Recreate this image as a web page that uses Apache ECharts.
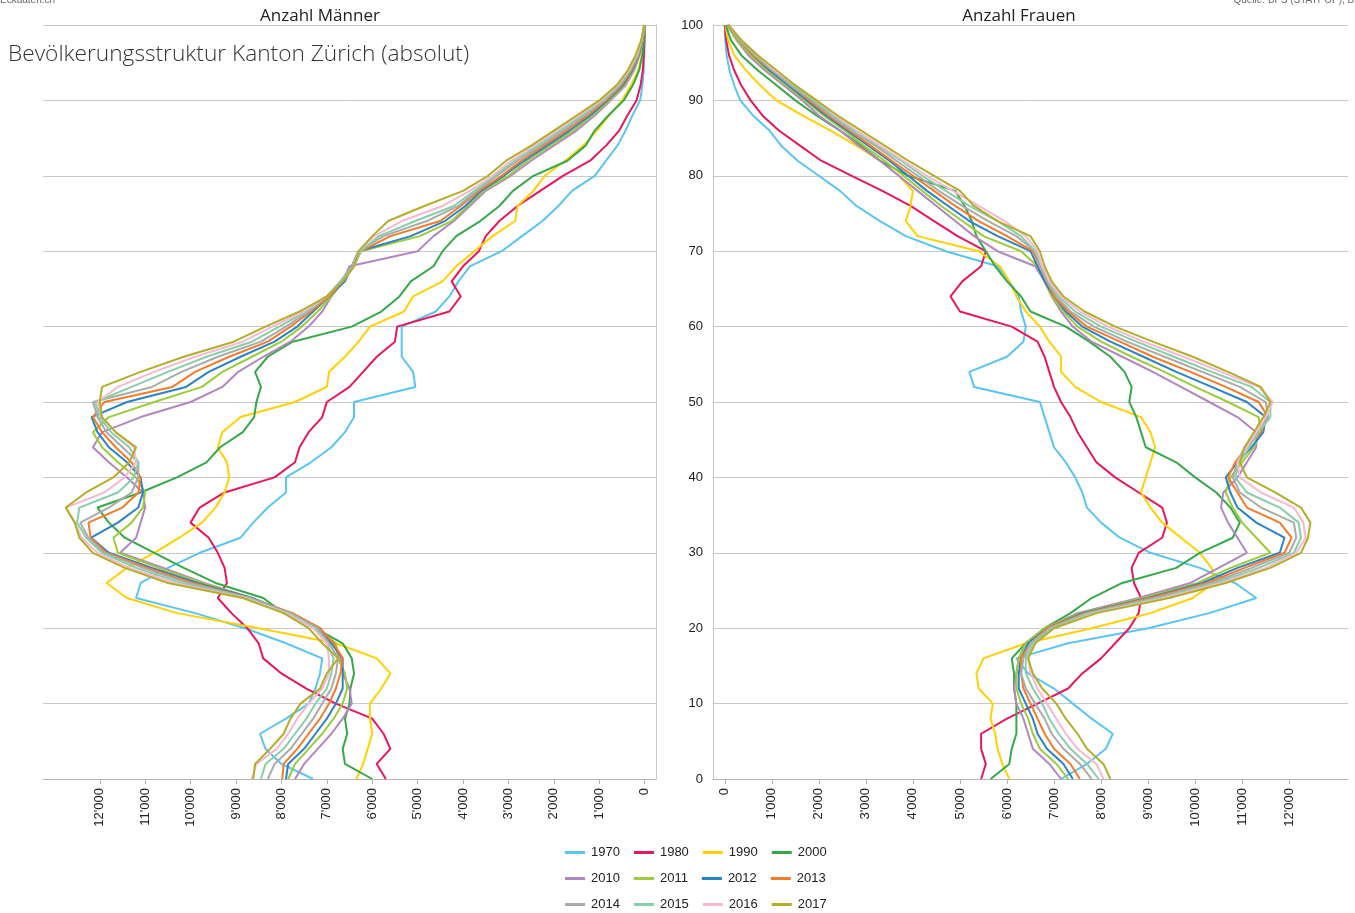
<!DOCTYPE html>
<html>
<head>
<meta charset="utf-8">
<title>Bevölkerungsstruktur Kanton Zürich</title>
<script src="https://cdn.jsdelivr.net/npm/echarts@6.0.0/dist/echarts.min.js"></script>
<style>
html, body { margin: 0; padding: 0; background: #fff; }
#chart { width: 1355px; height: 913px; }
</style>
</head>
<body>
<div id="chart"></div>
<script>
// Alter (y-Achse), alle 2 Jahre
var ages = [0,2,4,6,8,10,12,14,16,18,20,22,24,26,28,30,32,34,36,38,40,42,44,46,48,50,52,54,56,58,60,62,64,66,68,70,72,74,76,78,80,82,84,86,88,90,92,94,96,98,100];
var years = ['1970','1980','1990','2000','2010','2011','2012','2013','2014','2015','2016','2017'];
var colors = ['#5bc5f2','#e5185d','#ffd105','#36a84a','#b286c0','#9ccb3b','#2b83c6','#f47b2a','#a9abab','#86cfa8','#f7b8d1','#b5ad2a'];
var tickValues = [0,1000,2000,3000,4000,5000,6000,7000,8000,9000,10000,11000,12000];

// Männer
var m1970 = [7300,8000,8350,8470,7900,7400,7250,7150,7100,7900,8800,9900,11200,11100,10500,9800,8900,8620,8300,7900,7900,7350,6900,6600,6400,6400,5050,5100,5350,5350,5350,4600,4300,4100,3850,3150,2700,2250,1900,1600,1100,850,600,420,270,100,50,20,10,0,0];
var m1980 = [5700,5900,5600,5750,6000,6800,7450,8000,8400,8500,8750,9100,9400,9200,9250,9400,9600,10000,9800,9250,8150,7700,7600,7400,7100,7000,6500,6200,5900,5500,5450,4300,4050,4250,4000,3650,3500,3200,2800,2300,1800,1200,850,560,380,180,90,40,20,5,0];
var m1990 = [6350,6200,6100,6000,6050,6050,5800,5600,5900,6800,8500,10300,11400,11850,11400,10800,10250,9750,9450,9250,9150,9200,9400,9300,8900,7700,7000,6950,6600,6300,6050,5300,5100,4450,4150,3750,3350,2850,2800,2450,2200,1750,1350,1050,780,500,300,140,60,20,0];
var m2000 = [6000,6600,6650,6550,6600,6500,6480,6400,6450,6650,7250,7950,8400,9450,10150,10800,11450,11800,12050,11100,10300,9650,9350,8850,8600,8550,8450,8580,8300,7750,6450,5800,5400,5150,4650,4450,4150,3620,3200,2900,2450,1700,1300,1100,800,460,260,120,50,15,0];
var m2010 = [7700,7500,7200,6900,6650,6450,6500,6650,6700,6850,7250,7900,8650,9700,10600,11550,11200,11100,11000,11050,11400,11800,12150,11950,11100,10000,9300,8950,8400,7800,7400,7100,6900,6650,6500,5000,4650,4200,3850,3500,2950,2500,2000,1500,1100,750,420,230,110,40,5];
var m2011 = [7850,7700,7400,7100,6850,6650,6550,6600,6750,6800,7200,7850,8650,9750,10700,11600,11700,11300,11050,11000,11200,11600,11950,12150,11800,10800,9750,9300,8650,8000,7550,7200,6900,6650,6450,6250,4950,4250,3900,3550,3000,2580,2080,1570,1150,780,450,250,120,45,5];
var m2012 = [7900,7850,7500,7250,7000,6800,6650,6650,6650,6900,7150,7800,8650,9850,10850,11800,12190,11600,11150,11050,11100,11400,11800,12050,12180,11400,10100,9600,8900,8150,7650,7300,6950,6600,6450,6300,5150,4400,3950,3600,3100,2650,2150,1650,1200,820,480,270,130,50,8];
var m2013 = [7980,7950,7650,7400,7150,6950,6800,6700,6650,6850,7150,7750,8700,9950,10950,11850,12200,12250,11500,11150,11100,11300,11650,11950,12150,11900,10400,9900,9150,8300,7800,7350,6950,6650,6400,6250,5600,4500,4050,3650,3150,2720,2220,1720,1260,850,510,290,140,55,8];
var m2014 = [8300,8150,7800,7550,7300,7100,6900,6800,6750,6950,7200,7800,8700,10050,11050,11900,12250,12430,11800,11300,11150,11150,11500,11850,12050,12150,10850,10200,9400,8450,7900,7400,7000,6700,6450,6300,5750,4800,4100,3700,3250,2800,2290,1790,1320,890,540,310,150,60,10];
var m2015 = [8450,8350,7950,7700,7450,7250,7000,6900,6850,7000,7250,7850,8750,10200,11200,11950,12300,12500,12450,11600,11250,11150,11350,11750,12000,12100,11300,10500,9650,8650,8050,7450,7000,6700,6400,6250,5850,5050,4200,3750,3300,2870,2360,1860,1380,920,570,330,170,65,10];
var m2016 = [8650,8550,8100,7850,7650,7400,7100,6950,6950,7000,7300,7900,8800,10350,11350,12050,12400,12550,12750,11900,11450,11200,11250,11650,11950,12050,11600,10800,9900,8850,8200,7500,7000,6650,6400,6300,5950,5350,4450,3850,3350,2940,2430,1930,1440,960,600,350,180,70,10];
var m2017 = [8620,8580,8250,7950,7800,7580,7150,7000,6750,7100,7400,7950,8850,10500,11450,12150,12450,12550,12750,12300,11700,11350,11200,11650,11950,12000,11950,11100,10150,9050,8350,7600,7000,6650,6400,6300,6000,5650,4850,4000,3450,3050,2500,2000,1500,1000,620,370,200,75,10];

// Frauen
var f1970 = [7150,7700,8100,8250,7800,7400,7000,6450,6200,7300,9000,10300,11300,10850,10100,9050,8400,8000,7700,7600,7450,7250,7000,6900,6800,6700,5300,5200,6000,6350,6400,6300,6250,6050,5800,4700,3850,3300,2800,2450,2000,1550,1200,950,600,330,200,100,40,10,0];
var f1980 = [5450,5550,5450,5450,6000,6650,7300,7600,8000,8300,8600,8800,8850,8700,8650,8800,9300,9400,9300,8800,8300,7900,7700,7500,7350,7150,7000,6900,6800,6650,6100,5000,4800,5050,5450,5550,4950,4450,3950,3350,2700,2050,1600,1150,800,550,350,200,90,30,0];
var f1990 = [6050,5900,5800,5750,5650,5700,5400,5350,5500,6400,7800,9050,9950,10400,10350,10100,9700,9300,9050,8850,8950,9050,9150,9050,8850,8000,7450,7150,7150,6900,6700,6400,6200,6050,5850,5400,4100,3850,3950,4000,3700,3300,2800,2250,1650,1100,750,450,200,70,10];
var f2000 = [5650,6050,6100,6200,6200,6200,6150,6150,6100,6400,6800,7350,7800,8450,9600,10100,10800,10950,10750,10450,10000,9600,8950,8850,8750,8600,8650,8500,8200,7750,7250,6500,6300,6000,5750,5550,5350,5250,5100,4900,3900,3300,2900,2450,1950,1500,1100,700,350,130,20];
var f2010 = [7150,6900,6550,6450,6350,6200,6150,6200,6250,6400,6800,7500,8800,9900,10500,11100,10900,10700,10550,10600,10900,11100,11300,11300,10900,10300,9700,9100,8450,7800,7400,7150,6950,6800,6600,5800,5300,4900,4500,4100,3700,3300,2850,2450,2000,1650,1250,850,500,250,50];
var f2011 = [7300,7050,6700,6550,6450,6300,6200,6200,6250,6400,6800,7550,8900,10050,10750,11600,11300,11000,10800,10650,10750,11000,11250,11400,11350,10700,10000,9350,8650,8000,7500,7200,6950,6800,6650,6300,5500,5050,4600,4200,3800,3400,2950,2550,2100,1700,1300,900,550,250,50];
var f2012 = [7400,7200,6850,6650,6550,6400,6250,6250,6300,6450,6850,7600,9000,10150,10900,11800,11900,11300,10900,10750,10650,10900,11200,11450,11500,11100,10350,9600,8900,8200,7600,7250,7000,6800,6650,6500,5800,5200,4750,4300,3900,3500,3050,2600,2150,1750,1350,950,600,300,60];
var f2013 = [7550,7350,7000,6800,6650,6500,6350,6300,6300,6500,6850,7650,9050,10250,11050,11900,12050,11800,11100,10900,10700,10850,11100,11400,11550,11350,10650,9900,9100,8400,7700,7300,7000,6850,6700,6550,6000,5400,4900,4450,4000,3550,3100,2650,2200,1800,1400,1000,600,300,60];
var f2014 = [7800,7550,7200,6950,6800,6600,6400,6300,6350,6500,6900,7700,9150,10350,11200,12000,12150,12100,11400,10950,10800,10900,11050,11350,11550,11500,10950,10150,9350,8550,7850,7350,7050,6850,6700,6600,6200,5600,5050,4550,4100,3650,3200,2700,2250,1850,1400,1000,650,300,70];
var f2015 = [7950,7700,7350,7100,6900,6750,6550,6400,6400,6550,6950,7750,9250,10450,11350,12100,12250,12200,11800,11100,10850,10950,11150,11350,11600,11600,11200,10350,9550,8750,8000,7450,7100,6900,6750,6600,6300,5800,5200,4700,4200,3750,3250,2750,2300,1900,1450,1050,650,350,70];
var f2016 = [8050,7900,7500,7250,7050,6850,6650,6500,6450,6600,7000,7850,9350,10550,11500,12150,12350,12300,12100,11400,10950,10900,11100,11300,11500,11650,11350,10550,9750,8900,8150,7550,7150,6900,6750,6650,6400,5950,5400,4850,4300,3800,3300,2800,2350,1950,1500,1050,700,350,80];
var f2017 = [8200,8050,7700,7500,7250,7050,6750,6550,6450,6600,7000,7900,9450,10650,11600,12250,12400,12450,12250,11700,11100,10950,11050,11250,11450,11600,11400,10700,9950,9100,8300,7650,7200,6950,6800,6700,6500,5800,5300,5000,4450,3900,3400,2900,2400,1950,1500,1100,700,350,80];

var men = [m1970, m1980, m1990, m2000, m2010, m2011, m2012, m2013, m2014, m2015, m2016, m2017];
var women = [f1970, f1980, f1990, f2000, f2010, f2011, f2012, f2013, f2014, f2015, f2016, f2017];

function fmt(v) {
	return String(v).replace(/\B(?=(\d{3})+(?!\d))/g, "'");
}

var myChart = echarts.init(document.getElementById('chart'), null, { renderer: 'canvas' });

var series = [];
for (var i = 0; i < years.length; i++) {
	var dm = [], df = [];
	for (var j = 0; j < ages.length; j++) {
		dm.push([men[i][j], ages[j]]);
		df.push([women[i][j], ages[j]]);
	}
	series.push({
		name: years[i], type: 'line', xAxisIndex: 0, yAxisIndex: 0,
		data: dm, showSymbol: false, symbol: 'none', clip: false,
		lineStyle: { width: 2, color: colors[i] }, itemStyle: { color: colors[i] }
	});
	series.push({
		name: years[i], type: 'line', xAxisIndex: 1, yAxisIndex: 1,
		data: df, showSymbol: false, symbol: 'none', clip: false,
		lineStyle: { width: 2, color: colors[i] }, itemStyle: { color: colors[i] }
	});
}

var axisFont = { fontFamily: 'Liberation Sans', fontSize: 13, color: '#222' };

function xAxis(gridIndex, inverse) {
	return {
		type: 'value', gridIndex: gridIndex, inverse: inverse,
		min: -250, max: 13250,
		splitLine: { show: false },
		axisLine: { show: true, lineStyle: { color: '#b4b4b4', width: 1 } },
		axisTick: { show: true, length: 5, customValues: tickValues, lineStyle: { color: '#b4b4b4' } },
		axisLabel: {
			customValues: tickValues, rotate: 90, margin: 9,
			formatter: function (v) { return fmt(v); },
			fontFamily: axisFont.fontFamily, fontSize: axisFont.fontSize, color: axisFont.color
		}
	};
}

function yAxis(gridIndex, pos, showLabel) {
	return {
		type: 'value', gridIndex: gridIndex, position: pos,
		min: 0, max: 100, interval: 10,
		axisLine: { show: true, onZero: false, lineStyle: { color: '#c8c8c8', width: 1 } },
		axisTick: { show: false },
		splitLine: { show: true, lineStyle: { color: '#c8c8c8', width: 1 } },
		axisLabel: {
			show: showLabel, margin: 10,
			fontFamily: axisFont.fontFamily, fontSize: axisFont.fontSize, color: axisFont.color
		}
	};
}

function legendRow(top, items) {
	return {
		top: top, left: 565, orient: 'horizontal', padding: 0,
		data: items, icon: 'rect', itemWidth: 20, itemHeight: 3, itemGap: 14,
		textStyle: { fontFamily: 'Liberation Sans', fontSize: 13, color: '#222', padding: [0, 0, 0, 1] }
	};
}

var option = {
	animation: false,
	backgroundColor: '#ffffff',
	color: colors,
	title: [
		{ text: 'Eckdaten.ch', left: 0, top: -5, padding: 0, textStyle: { fontFamily: 'Liberation Sans', fontSize: 10, fontWeight: 'normal', color: '#666' } },
		{ text: 'Quelle: BFS (STATPOP), BFS', right: -12, top: -5, padding: 0, textStyle: { fontFamily: 'Liberation Sans', fontSize: 10, fontWeight: 'normal', color: '#666' } },
		{ text: 'Anzahl Männer', left: 320, textAlign: 'center', top: 8, padding: 0, textStyle: { fontFamily: 'Open Sans', fontSize: 17, fontWeight: 'normal', color: '#222' } },
		{ text: 'Anzahl Frauen', left: 1019, textAlign: 'center', top: 8, padding: 0, textStyle: { fontFamily: 'Open Sans', fontSize: 17, fontWeight: 'normal', color: '#222' } },
		{ text: 'Bevölkerungsstruktur Kanton Zürich (absolut)', left: 8, top: 43, padding: 0, textStyle: { fontFamily: 'Open Sans', fontSize: 22.7, fontWeight: 300, color: '#333' } }
	],
	legend: [
		legendRow(846, years.slice(0, 4)),
		legendRow(872, years.slice(4, 8)),
		legendRow(898, years.slice(8, 12))
	],
	grid: [
		{ left: 43, right: 699, top: 25, bottom: 134 },
		{ left: 713, right: 7, top: 25, bottom: 134 }
	],
	xAxis: [xAxis(0, true), xAxis(1, false)],
	yAxis: [yAxis(0, 'right', false), yAxis(1, 'left', true)],
	series: series
};

myChart.setOption(option);
</script>
</body>
</html>
